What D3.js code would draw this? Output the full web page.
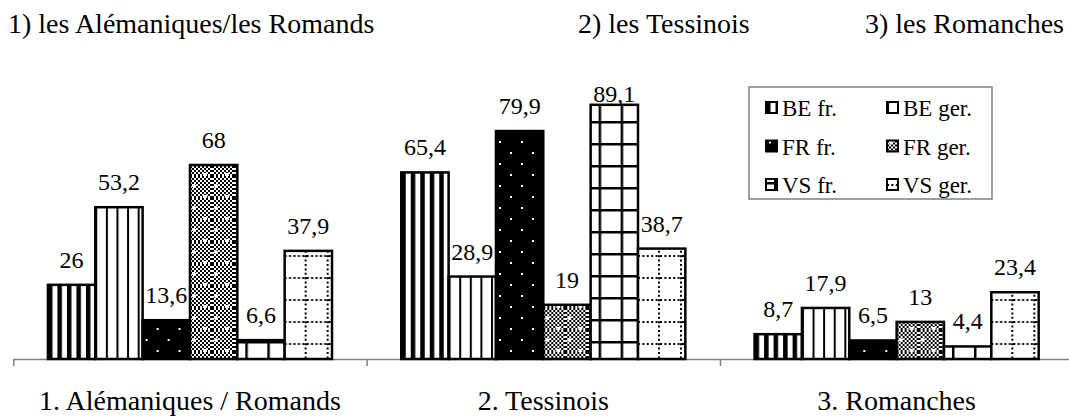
<!DOCTYPE html>
<html>
<head>
<meta charset="utf-8">
<script src="https://cdn.jsdelivr.net/npm/d3@7"></script>
<style>
  body { margin: 0; background: #fff; }
</style>
</head>
<body>
<div id="chart"></div>
<script>
// chart data
const categories = ["1. Alémaniques / Romands", "2. Tessinois", "3. Romanches"];
const titles = ["1) les Alémaniques/les Romands", "2) les Tessinois", "3) les Romanches"];
const seriesNames = ["BE fr.", "BE ger.", "FR fr.", "FR ger.", "VS fr.", "VS ger."];
const beFr = [26, 65.4, 8.7];
const beGer = [53.2, 28.9, 17.9];
const frFr = [13.6, 79.9, 6.5];
const frGer = [68, 19, 13];
const vsFr = [6.6, 89.1, 4.4];
const vsGer = [37.9, 38.7, 23.4];
const seriesValues = [beFr, beGer, frFr, frGer, vsFr, vsGer];

const width = 1069, height = 417;
const baseY = 359;

// pick a Times-like font that is really installed
function pickSerif() {
    const ctx = document.createElement("canvas").getContext("2d");
    const probe = "Alémaniques Romands 0123456789";
    const widthOf = f => { ctx.font = `40px ${f}`; return ctx.measureText(probe).width; };
    const baseMono = widthOf("monospace"), baseSans = widthOf("sans-serif");
    const candidates = ["Liberation Serif", "Tinos", "Times New Roman", "Nimbus Roman", "Nimbus Roman No9 L",
        "FreeSerif", "DejaVu Serif", "Noto Serif", "Times"];
    for (const c of candidates) {
        if (widthOf(`"${c}", monospace`) !== baseMono && widthOf(`"${c}", sans-serif`) !== baseSans) return `"${c}", serif`;
    }
    return "serif";
}
const serif = pickSerif();

const svg = d3.select("#chart").append("svg")
    .attr("width", width)
    .attr("height", height)
    .style("font-family", serif);

// fill patterns (one per series)
const defs = svg.append("defs");
const patIds = ["pBeFr", "pBeGer", "pFrFr", "pFrGer", "pVsFr", "pVsGer"];

function pattern(id, w, h) {
    return defs.append("pattern")
        .attr("id", id)
        .attr("patternUnits", "userSpaceOnUse")
        .attr("width", w)
        .attr("height", h);
}

// BE fr. : wide vertical stripes
let p = pattern("pBeFr", 9.5, 10);
p.append("rect").attr("width", 9.5).attr("height", 10).attr("fill", "#fff");
p.append("rect").attr("width", 4.5).attr("height", 10).attr("fill", "#000");

// BE ger. : thin vertical lines
p = pattern("pBeGer", 10.6, 10);
p.append("rect").attr("width", 10.6).attr("height", 10).attr("fill", "#fff");
p.append("rect").attr("width", 2).attr("height", 10).attr("fill", "#000");

// FR fr. : black with sparse white dots
p = pattern("pFrFr", 22, 22);
p.append("rect").attr("width", 22).attr("height", 22).attr("fill", "#000");
p.append("rect").attr("x", 14).attr("y", 20).attr("width", 2).attr("height", 2).attr("fill", "#fff");
p.append("rect").attr("x", 3).attr("y", 9).attr("width", 2).attr("height", 2).attr("fill", "#fff");

// FR ger. : fine checker with white crosses
const ck = pattern("pChecker", 4, 4);
ck.append("rect").attr("width", 4).attr("height", 4).attr("fill", "#fff");
ck.append("rect").attr("width", 2).attr("height", 2).attr("fill", "#000");
ck.append("rect").attr("x", 2).attr("y", 2).attr("width", 2).attr("height", 2).attr("fill", "#000");
p = pattern("pFrGer", 22, 22);
p.append("rect").attr("width", 22).attr("height", 22).attr("fill", "url(#pChecker)");
[[15, 21], [4, 10]].forEach(([cx, cy]) => {
    p.append("rect").attr("x", cx - 2).attr("y", cy - 1).attr("width", 4).attr("height", 2).attr("fill", "#fff");
    p.append("rect").attr("x", cx - 1).attr("y", cy - 2).attr("width", 2).attr("height", 4).attr("fill", "#fff");
});

// VS fr. : large solid grid
p = pattern("pVsFr", 22, 22);
p.append("rect").attr("width", 22).attr("height", 22).attr("fill", "#fff");
p.append("rect").attr("x", 8).attr("width", 2.5).attr("height", 22).attr("fill", "#000");
p.append("rect").attr("y", 11).attr("width", 22).attr("height", 2.5).attr("fill", "#000");

// VS ger. : dotted grid
p = pattern("pVsGer", 22, 22);
p.append("rect").attr("width", 22).attr("height", 22).attr("fill", "#fff");
p.append("line").attr("x1", 21).attr("x2", 21).attr("y1", 0).attr("y2", 22)
    .attr("stroke", "#000").attr("stroke-width", 2).attr("stroke-dasharray", "2 2.4");
p.append("line").attr("x1", 0).attr("x2", 22).attr("y1", 14).attr("y2", 14)
    .attr("stroke", "#000").attr("stroke-width", 2).attr("stroke-dasharray", "2 2.4");

// scales
const x0 = d3.scaleBand()
    .domain(categories)
    .range([13.3, 1073.3])
    .paddingInner(0.196)
    .paddingOuter(0.098);

const x1 = d3.scaleBand()
    .domain(seriesNames)
    .range([0, x0.bandwidth()]);

const y = d3.scaleLinear()
    .domain([0, 100])
    .range([baseY, baseY - 285.3]);

// axis with ticks between categories
const xEdge = d3.scaleLinear().domain([0, categories.length]).range(x0.range());
const axisG = svg.append("g")
    .attr("transform", `translate(0,${baseY})`)
    .call(d3.axisBottom(xEdge).tickValues(d3.range(categories.length + 1)).tickSize(7).tickSizeOuter(0).tickFormat(""));
axisG.select(".domain").attr("stroke", "#808080").attr("stroke-width", 1.5);
axisG.selectAll(".tick line").attr("stroke", "#808080").attr("stroke-width", 1.5);

// category labels
svg.selectAll(".cat")
    .data(categories)
    .enter().append("text")
    .attr("class", "cat")
    .attr("x", d => x0(d) + x0.bandwidth() / 2)
    .attr("y", 410)
    .attr("text-anchor", "middle")
    .attr("font-size", "28px")
    .text(d => d);

// bars
const rows = [];
categories.forEach((c, ci) => {
    seriesNames.forEach((s, si) => {
        rows.push({ cat: c, series: s, si: si, value: seriesValues[si][ci] });
    });
});

const barG = svg.selectAll(".bar")
    .data(rows)
    .enter().append("g")
    .attr("class", "bar")
    .attr("transform", d => `translate(${x0(d.cat) + x1(d.series)},0)`);

barG.append("rect")
    .attr("x", 0)
    .attr("y", d => y(d.value))
    .attr("width", x1.bandwidth())
    .attr("height", d => baseY - y(d.value))
    .attr("fill", d => `url(#${patIds[d.si]})`)
    .attr("stroke", "#000")
    .attr("stroke-width", 2.5);

// value labels, kept inside the plot top
const labelTop = y(100) + 28;
barG.append("text")
    .attr("x", x1.bandwidth() / 2)
    .attr("y", d => Math.max(y(d.value) - 17, labelTop))
    .attr("text-anchor", "middle")
    .attr("font-size", "24px")
    .text(d => String(d.value).replace(".", ","));

// titles above the chart
const titleX = [8, 578, 1064];
const titleAnchor = ["start", "start", "end"];
svg.selectAll(".title")
    .data(titles)
    .enter().append("text")
    .attr("class", "title")
    .attr("x", (d, i) => titleX[i])
    .attr("y", 33)
    .attr("text-anchor", (d, i) => titleAnchor[i])
    .attr("font-size", "28px")
    .text(d => d);

// legend
const legend = svg.append("g");
legend.append("rect")
    .attr("x", 749).attr("y", 87)
    .attr("width", 243).attr("height", 112)
    .attr("fill", "#fff")
    .attr("stroke", "#808080")
    .attr("stroke-width", 1.5);

const legItems = legend.selectAll(".leg")
    .data(seriesNames)
    .enter().append("g")
    .attr("class", "leg")
    .attr("transform", (d, i) => `translate(${766 + (i % 2) * 121},${116 + Math.floor(i / 2) * 38.5})`);

legItems.append("rect")
    .attr("x", 0).attr("y", -14)
    .attr("width", 11).attr("height", 11)
    .attr("fill", (d, i) => `url(#${patIds[i]})`)
    .attr("stroke", "#000")
    .attr("stroke-width", 2);

legItems.append("text")
    .attr("x", 16)
    .attr("y", 0)
    .attr("font-size", "23px")
    .text(d => d);
</script>
</body>
</html>
